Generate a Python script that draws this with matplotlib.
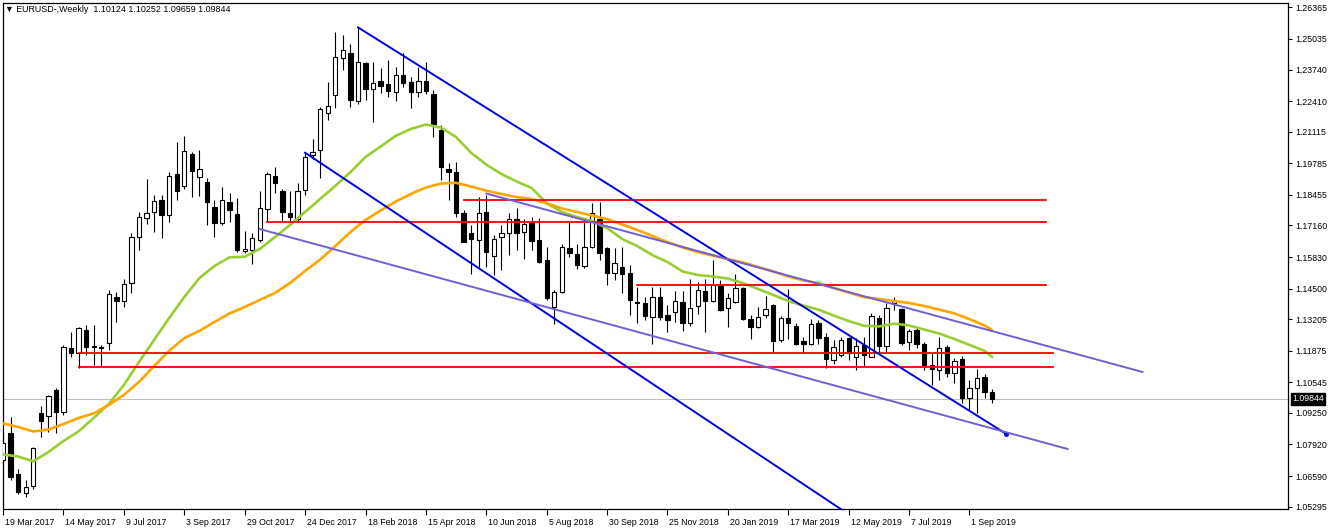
import numpy as np
import matplotlib.pyplot as plt
from matplotlib.transforms import ScaledTranslation, blended_transform_factory

# EURUSD weekly candles, first one is the week of 19 Mar 2017, last one 22 Sep 2019
opens = [1.0727, 1.0842, 1.0668, 1.0589, 1.0618, 1.0924, 1.0912, 1.1022, 1.0930, 1.1198,
         1.1179, 1.1275, 1.1207, 1.1205, 1.1219, 1.1416, 1.1399, 1.1472, 1.1666, 1.1746,
         1.1773, 1.1824, 1.1759, 1.1933, 1.1884, 1.2018, 1.1919, 1.1899, 1.1793, 1.1728,
         1.1814, 1.1763, 1.1608, 1.1613, 1.1655, 1.1784, 1.1926, 1.1863, 1.1767, 1.1742,
         1.1866, 1.2013, 1.2034, 1.2192, 1.2267, 1.2421, 1.2442, 1.2242, 1.2400, 1.2291,
         1.2327, 1.2312, 1.2280, 1.2351, 1.2323, 1.2280, 1.2327, 1.2271, 1.2119, 1.1954,
         1.1940, 1.1770, 1.1683, 1.1655, 1.1774, 1.1587, 1.1666, 1.1686, 1.1742, 1.1690,
         1.1725, 1.1655, 1.1570, 1.1373, 1.1437, 1.1620, 1.1596, 1.1545, 1.1627, 1.1742,
         1.1620, 1.1517, 1.1540, 1.1514, 1.1393, 1.1388, 1.1329, 1.1416, 1.1338, 1.1350,
         1.1394, 1.1303, 1.1376, 1.1441, 1.1399, 1.1461, 1.1367, 1.1394, 1.1451, 1.1320,
         1.1289, 1.1338, 1.1381, 1.1233, 1.1324, 1.1292, 1.1230, 1.1216, 1.1306, 1.1247,
         1.1149, 1.1170, 1.1240, 1.1160, 1.1212, 1.1162, 1.1324, 1.1208, 1.1388, 1.1362,
         1.1226, 1.1275, 1.1218, 1.1127, 1.1106, 1.1202, 1.1092, 1.1152, 1.0987, 1.1029,
         1.1078, 1.10124]
highs = [1.0832, 1.0907, 1.0687, 1.0642, 1.0783, 1.0954, 1.1001, 1.1029, 1.1212, 1.1268,
         1.1286, 1.1296, 1.1296, 1.1212, 1.1445, 1.1437, 1.1490, 1.1683, 1.1774, 1.1911,
         1.1845, 1.1845, 1.1943, 1.2070, 1.2094, 1.2027, 1.2034, 1.1915, 1.1824, 1.1877,
         1.1852, 1.1833, 1.1694, 1.1683, 1.1863, 1.1943, 1.1964, 1.1869, 1.1863, 1.1897,
         1.2021, 1.2081, 1.2215, 1.2323, 1.2534, 1.2520, 1.2480, 1.2552, 1.2405, 1.2407,
         1.2379, 1.2414, 1.2386, 1.2442, 1.2344, 1.2386, 1.2407, 1.2288, 1.2140, 1.1978,
         1.1985, 1.1780, 1.1720, 1.1837, 1.1845, 1.1676, 1.1718, 1.1767, 1.1788, 1.1742,
         1.1751, 1.1746, 1.1627, 1.1444, 1.1638, 1.1732, 1.1638, 1.1732, 1.1810, 1.1816,
         1.1627, 1.1620, 1.1627, 1.1549, 1.1458, 1.1416, 1.1458, 1.1458, 1.1381, 1.1441,
         1.1441, 1.1489, 1.1479, 1.1489, 1.1570, 1.1486, 1.1430, 1.1511, 1.1455, 1.1338,
         1.1373, 1.1418, 1.1385, 1.1335, 1.1447, 1.1303, 1.1244, 1.1320, 1.1317, 1.1264,
         1.1233, 1.1247, 1.1247, 1.1240, 1.1247, 1.1348, 1.1338, 1.1388, 1.1413, 1.1367,
         1.1278, 1.1282, 1.1225, 1.1179, 1.1247, 1.1212, 1.1156, 1.1165, 1.1064, 1.1109,
         1.1089, 1.10252]
lows = [1.0713, 1.0642, 1.0583, 1.0569, 1.0605, 1.0822, 1.0846, 1.0839, 1.0916, 1.1160,
        1.1114, 1.1170, 1.1127, 1.1120, 1.1190, 1.1310, 1.1371, 1.1432, 1.1613, 1.1722,
        1.1690, 1.1662, 1.1732, 1.1824, 1.1869, 1.1837, 1.1840, 1.1718, 1.1669, 1.1718,
        1.1730, 1.1605, 1.1599, 1.1554, 1.1648, 1.1732, 1.1852, 1.1732, 1.1718, 1.1732,
        1.1845, 1.1995, 1.1915, 1.2161, 1.2210, 1.2372, 1.2217, 1.2230, 1.2245, 1.2154,
        1.2274, 1.2257, 1.2242, 1.2302, 1.2210, 1.2259, 1.2271, 1.2091, 1.1908, 1.1824,
        1.1753, 1.1645, 1.1511, 1.1542, 1.1542, 1.1507, 1.1528, 1.1592, 1.1613, 1.1573,
        1.1613, 1.1556, 1.1402, 1.1300, 1.1432, 1.1582, 1.1531, 1.1535, 1.1620, 1.1570,
        1.1465, 1.1486, 1.1430, 1.1338, 1.1303, 1.1317, 1.1216, 1.1317, 1.1268, 1.1310,
        1.1272, 1.1290, 1.1343, 1.1268, 1.1394, 1.1356, 1.1286, 1.1390, 1.1317, 1.1236,
        1.1282, 1.1324, 1.1179, 1.1225, 1.1236, 1.1210, 1.1177, 1.1210, 1.1216, 1.1114,
        1.1132, 1.1162, 1.1149, 1.1106, 1.1120, 1.1160, 1.1177, 1.1183, 1.1360, 1.1212,
        1.1191, 1.1198, 1.1106, 1.1043, 1.1064, 1.1078, 1.1053, 1.0966, 1.0938, 1.0924,
        1.0987, 1.09659]
closes = [1.0797, 1.0656, 1.0593, 1.0614, 1.0776, 1.0892, 1.0997, 1.0930, 1.1205, 1.1179,
          1.1282, 1.1205, 1.1202, 1.1198, 1.1427, 1.1399, 1.1468, 1.1666, 1.1751, 1.1767,
          1.1821, 1.1759, 1.1925, 1.1862, 1.2032, 1.1946, 1.1953, 1.1814, 1.1728, 1.1824,
          1.1781, 1.1613, 1.1616, 1.1662, 1.1789, 1.1933, 1.1894, 1.1772, 1.1751, 1.1862,
          1.2006, 1.2027, 1.2206, 1.2220, 1.2428, 1.2456, 1.2245, 1.2404, 1.2291, 1.2316,
          1.2304, 1.2285, 1.2351, 1.2318, 1.2280, 1.2327, 1.2285, 1.2144, 1.1964, 1.1940,
          1.1769, 1.1648, 1.1658, 1.1767, 1.1605, 1.1658, 1.1683, 1.1742, 1.1686, 1.1721,
          1.1652, 1.1563, 1.1409, 1.1437, 1.1624, 1.1601, 1.1549, 1.1624, 1.1767, 1.1599,
          1.1517, 1.1559, 1.1511, 1.1402, 1.1388, 1.1334, 1.1416, 1.1331, 1.1317, 1.1399,
          1.1303, 1.1367, 1.1444, 1.1399, 1.1465, 1.1359, 1.1409, 1.1451, 1.1320, 1.1289,
          1.1329, 1.1362, 1.1230, 1.1324, 1.1303, 1.1216, 1.1216, 1.1300, 1.1243, 1.1151,
          1.1202, 1.1233, 1.1177, 1.1208, 1.1170, 1.1334, 1.1208, 1.1367, 1.1402, 1.1221,
          1.1272, 1.1218, 1.1127, 1.1109, 1.1198, 1.1092, 1.1146, 1.0987, 1.1029, 1.1071,
          1.1015, 1.09844]

# moving averages read every second week
ma_weeks = list(range(0, 131, 2)) + [131]
green_ma = [1.0750, 1.0741, 1.0721, 1.0760, 1.0807, 1.0847, 1.0904, 1.0963, 1.1043, 1.1140,
            1.1233, 1.1326, 1.1414, 1.1494, 1.1545, 1.1582, 1.1584, 1.1617, 1.1667, 1.1718,
            1.1773, 1.1828, 1.1883, 1.1941, 1.2005, 1.2049, 1.2094, 1.2123, 1.2142, 1.2129,
            1.2089, 1.2022, 1.1973, 1.1933, 1.1902, 1.1874, 1.1810, 1.1773, 1.1752, 1.1735,
            1.1705, 1.1659, 1.1629, 1.1591, 1.1562, 1.1522, 1.1507, 1.1501, 1.1492, 1.1473,
            1.1448, 1.1423, 1.1397, 1.1378, 1.1361, 1.1336, 1.1313, 1.1293, 1.1290, 1.1302,
            1.1294, 1.1277, 1.1260, 1.1237, 1.1212, 1.1187, 1.1161]
orange_ma = [1.0881, 1.0866, 1.0847, 1.0855, 1.0878, 1.0904, 1.0923, 1.0959, 1.1001, 1.1056,
             1.1123, 1.1187, 1.1241, 1.1271, 1.1309, 1.1345, 1.1372, 1.1402, 1.1431, 1.1473,
             1.1524, 1.1572, 1.1629, 1.1688, 1.1739, 1.1779, 1.1817, 1.1849, 1.1876, 1.1893,
             1.1896, 1.1880, 1.1863, 1.1849, 1.1836, 1.1828, 1.1809, 1.1788, 1.1773, 1.1758,
             1.1743, 1.1720, 1.1697, 1.1672, 1.1646, 1.1623, 1.1604, 1.1589, 1.1574, 1.1560,
             1.1541, 1.1522, 1.1501, 1.1484, 1.1473, 1.1452, 1.1433, 1.1414, 1.1406, 1.1397,
             1.1389, 1.1376, 1.1361, 1.1345, 1.1321, 1.1294, 1.1275]

# drawn objects: (week, price) end points
blue_lines = [[(47, 1.2552), (132.9, 1.0836)], [(40, 1.2023), (114.8, 1.0438)]]
purple_lines = [[(34, 1.1701), (141, 1.0773)], [(64, 1.1851), (150.9, 1.1098)]]
red_levels = [1.1824, 1.1732, 1.1465, 1.1178, 1.1118]
red_from = [61, 35, 84, 10, 10]
red_to = [138.1, 138.1, 138.1, 139, 139]
last_price = 1.09844

date_weeks = list(range(0, 129, 8))
date_labels = ["19 Mar 2017", "14 May 2017", "9 Jul 2017", "3 Sep 2017", "29 Oct 2017",
               "24 Dec 2017", "18 Feb 2018", "15 Apr 2018", "10 Jun 2018", "5 Aug 2018",
               "30 Sep 2018", "25 Nov 2018", "20 Jan 2019", "17 Mar 2019", "12 May 2019",
               "7 Jul 2019", "1 Sep 2019"]
price_labels = ["1.26365", "1.25035", "1.23740", "1.22410", "1.21115", "1.19785", "1.18455",
                "1.17160", "1.15830", "1.14500", "1.13205", "1.11875", "1.10545", "1.09250",
                "1.07920", "1.06590", "1.05295"]

plt.rcParams['font.family'] = ['Liberation Sans', 'DejaVu Sans']

W, H = 1332, 529
fig = plt.figure(figsize=(W / 100, H / 100), dpi=100)
left, right, top, bottom = 2.5, 1288, 3, 508.5
ax = fig.add_axes([left / W, 1 - bottom / H, (right - left) / W, (bottom - top) / H])

# candles
x = np.arange(len(opens))
o = np.array(opens)
c = np.array(closes)
up = c >= o
body_low = np.minimum(o, c)
body_h = np.maximum(np.abs(c - o), 0.00004)
ax.vlines(x, lows, highs, color='black', lw=0.8, zorder=2)
ax.bar(x[up], body_h[up], 0.58, bottom=body_low[up], color='white', edgecolor='black',
       linewidth=0.8, zorder=3)
ax.bar(x[~up], body_h[~up], 0.58, bottom=body_low[~up], color='black', edgecolor='black',
       linewidth=0.8, zorder=3)

# moving averages
ax.plot(ma_weeks, green_ma, color='#9acd32', lw=1.9, zorder=4, solid_capstyle='round')
ax.plot(ma_weeks, orange_ma, color='#ffa500', lw=1.9, zorder=4, solid_capstyle='round')

# current price line
ax.axhline(last_price, color='#c0c0c0', lw=0.8, zorder=1)

# horizontal levels and trend lines
for lvl, a, b in zip(red_levels, red_from, red_to):
    ax.plot([a, b], [lvl, lvl], color='#ff0000', lw=1.3, zorder=5)
for (p0, p1) in blue_lines:
    ax.plot([p0[0], p1[0]], [p0[1], p1[1]], color='#0000dd', lw=1.4, zorder=5)
ax.plot([blue_lines[0][1][0]], [blue_lines[0][1][1]], 'o', color='#0000dd', ms=2.5, zorder=5)
for (p0, p1) in purple_lines:
    ax.plot([p0[0], p1[0]], [p0[1], p1[1]], color='#7060d8', lw=1.4, zorder=5)

# axes scale: week index horizontally, price vertically
px_week = 7.55
ax.set_xlim((left - 3.1) / px_week, (right - 3.1) / px_week)
px_price = 0.0004219
ax.set_ylim(1.26365 - (bottom - 7.3) * px_price, 1.26365 + (7.3 - top) * px_price)

ax.yaxis.tick_right()
ax.set_yticks([float(p) for p in price_labels])
ax.set_yticklabels(price_labels)
ax.tick_params(axis='y', direction='out', length=3, width=0.8, pad=2, labelsize=6.3)
ax.set_xticks(date_weeks)
ax.set_xticklabels(date_labels, ha='left')
ax.tick_params(axis='x', direction='out', length=4, width=0.8, pad=2.5, labelsize=6.3)
for lbl in ax.get_xticklabels():
    lbl.set_transform(lbl.get_transform() + ScaledTranslation(2 / 100, 0, fig.dpi_scale_trans))
for s in ax.spines.values():
    s.set_linewidth(0.9)

# last price box on the price scale
trans = blended_transform_factory(ax.transAxes, ax.transData)
ax.text(1 + 4 / (right - left), last_price, "1.09844", transform=trans, color='white',
        fontsize=6.3, va='center', ha='left',
        bbox=dict(boxstyle='square,pad=0.15', fc='black', ec='black'))

fig.text(5 / W, 1 - 9 / H, "\u25bc EURUSD-,Weekly  1.10124 1.10252 1.09659 1.09844",
         fontsize=6.4, va='center', ha='left')

fig.savefig("out.png", dpi=100)
